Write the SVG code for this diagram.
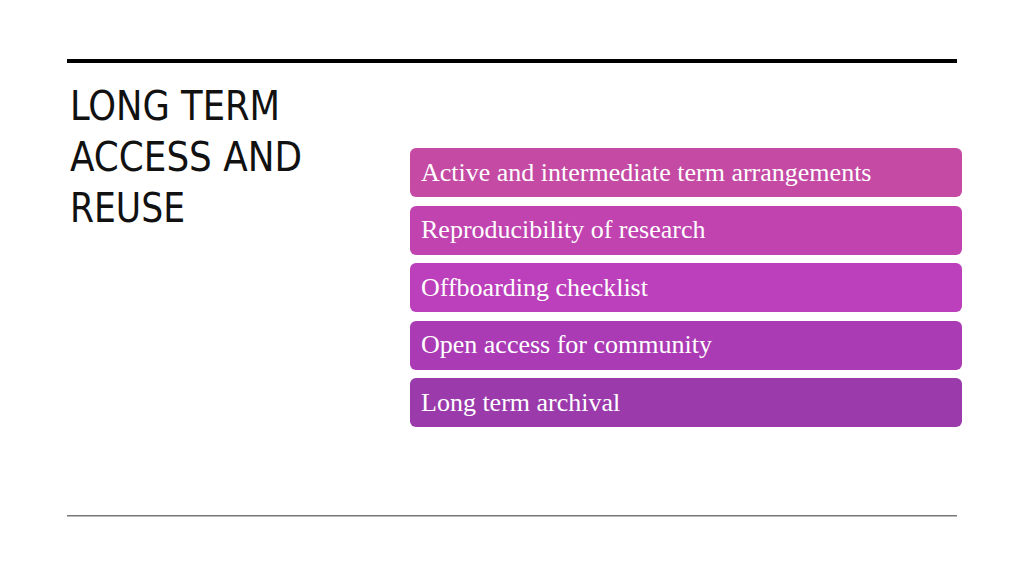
<svg xmlns="http://www.w3.org/2000/svg" width="1024" height="576" viewBox="0 0 1024 576">
<style>
.t{font-family:"DejaVu Sans Condensed","Roboto Condensed","Liberation Sans",sans-serif;font-size:40px;fill:#111}
.b{font-family:"Liberation Serif","Times New Roman",serif;font-size:26px;fill:#fff}
</style>
<rect width="1024" height="576" fill="#fff"/>
<rect x="67" y="59" width="890" height="4" fill="#000"/>
<rect x="67" y="515" width="890" height="1.5" fill="#777"/>
<g id="title">
<text class="t" x="70" y="120" textLength="210" lengthAdjust="spacingAndGlyphs">LONG TERM</text>
<text class="t" x="70" y="171" textLength="232" lengthAdjust="spacingAndGlyphs">ACCESS AND</text>
<text class="t" x="70" y="222" textLength="115" lengthAdjust="spacingAndGlyphs">REUSE</text>
</g>
<g id="n1"><rect x="410" y="148" width="552" height="49" rx="6" fill="#c44aa4"/><text class="b" x="421" y="181">Active and intermediate term arrangements</text></g>
<g id="n2"><rect x="410" y="206" width="552" height="49" rx="6" fill="#c043b0"/><text class="b" x="421" y="238">Reproducibility of research</text></g>
<g id="n3"><rect x="410" y="263" width="552" height="49" rx="6" fill="#bc3fbb"/><text class="b" x="421" y="296">Offboarding checklist</text></g>
<g id="n4"><rect x="410" y="321" width="552" height="49" rx="6" fill="#ab3bb5"/><text class="b" x="421" y="353">Open access for community</text></g>
<g id="n5"><rect x="410" y="378" width="552" height="49" rx="6" fill="#9a3aab"/><text class="b" x="421" y="411">Long term archival</text></g>
<g id="connectors"/>
</svg>
